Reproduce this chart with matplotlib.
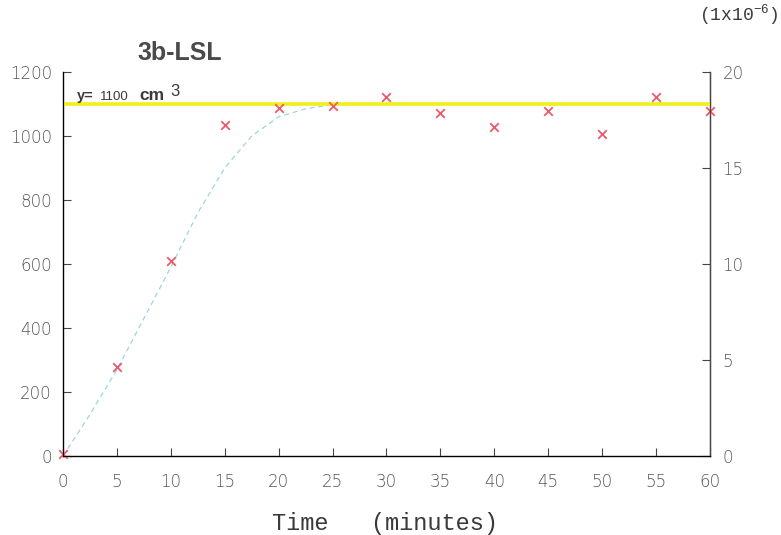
import matplotlib
matplotlib.use("Agg")
import matplotlib.pyplot as plt

plt.rcParams["mathtext.fontset"] = "custom"
plt.rcParams["mathtext.rm"] = "Liberation Mono"
plt.rcParams["mathtext.it"] = "Liberation Mono"

# measured points (minutes, cm3)
time_min = [0, 5, 10, 15, 20, 25, 30, 35, 40, 45, 50, 55, 60]
volume = [5, 278, 609, 1034, 1087, 1094, 1122, 1072, 1028, 1078, 1006, 1122, 1078]

# fitted curve
fit_t = [0, 2.5, 5, 7.5, 10, 12.5, 15, 17.5, 20, 22.5, 25, 30, 40, 50, 60]
fit_v = [0, 130, 270, 430, 590, 760, 900, 1000, 1060, 1085, 1098, 1100, 1100, 1100, 1100]

plateau = 1100

x_ticks = list(range(0, 61, 5))
y_ticks = list(range(0, 1201, 200))
right_ticks = [0, 5, 10, 15, 20]

tick_color = "#555555"
ink = "#3a3a3a"

fig = plt.figure(figsize=(7.81, 5.35), dpi=100)
ax = fig.add_axes([0.0807, 0.1477, 0.8283, 0.7177])

ax.plot(fit_t, fit_v, color="#9cd6dc", lw=0.9, ls=(0, (4, 3)), zorder=2)
ax.axhline(plateau, color="#f2ee1a", lw=2.6, zorder=3)
ax.scatter(time_min, volume, marker="x", s=38, color="#ec5a6a", lw=1.3,
           zorder=4, clip_on=False)

ax.set_xlim(0, 60)
ax.set_ylim(0, 1200)
ax.set_xticks(x_ticks)
ax.set_yticks(y_ticks)

ax.spines["top"].set_visible(False)
for s in ["left", "bottom", "right"]:
    ax.spines[s].set_color("#444444")
    ax.spines[s].set_linewidth(1.0)

ax.tick_params(axis="both", direction="in", length=6, width=0.8,
               color="#444444", labelcolor=tick_color, labelsize=12)
ax.tick_params(axis="x", pad=12)
ax.tick_params(axis="y", pad=8)

ax2 = ax.twinx()
ax2.set_ylim(0, 20)
ax2.set_yticks(right_ticks)
ax2.spines["top"].set_visible(False)
ax2.spines["right"].set_color("#444444")
ax2.tick_params(axis="y", direction="in", length=6, width=0.8,
                color="#444444", labelcolor=tick_color, labelsize=12, pad=9)

for lbl in ax.get_xticklabels() + ax.get_yticklabels() + ax2.get_yticklabels():
    lbl.set_fontfamily("DejaVu Sans")
    lbl.set_fontweight("light")

ax.text(10.85, 1259, "3b-LSL", fontsize=18, fontweight="bold",
        fontfamily="Liberation Sans", color="#4a4a4a", ha="center", va="center")

# label on the plateau line
ax.text(1.3, 1112, "y=", fontsize=10.5, fontweight="bold",
        fontfamily="Liberation Sans", color=ink, ha="left", va="baseline")
ax.text(3.45, 1112, "1100", fontsize=9.5,
        fontfamily="Liberation Sans", color=ink, ha="left", va="baseline")
ax.text(7.1, 1112, "cm", fontsize=12.5, fontweight="bold",
        fontfamily="Liberation Sans", color=ink, ha="left", va="baseline")
ax.text(9.95, 1126, "3", fontsize=12,
        fontfamily="Liberation Sans", color=ink, ha="left", va="baseline")

fig.text(0.493, 0.022, "Time   (minutes)", fontsize=17, fontfamily="Liberation Mono",
         color=ink, ha="center", va="center")
fig.text(0.997, 0.972, "(1x10$^{-6}$)", fontsize=13, fontfamily="Liberation Mono",
         color=ink, ha="right", va="center")

fig.savefig("out.png", dpi=100, facecolor="white")
